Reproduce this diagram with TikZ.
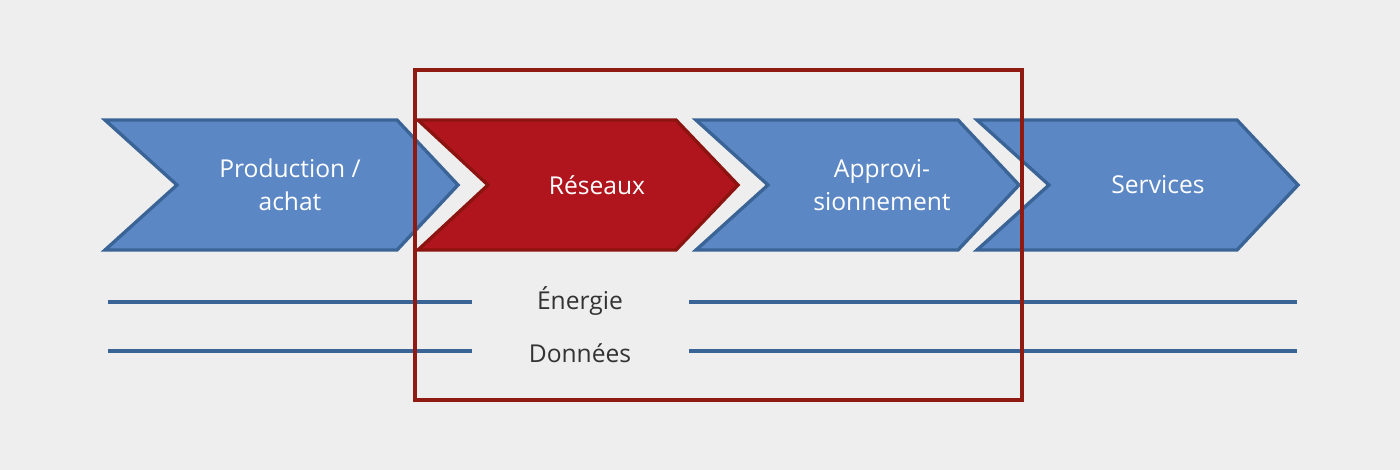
\documentclass[tikz,border=0pt]{standalone}
\usepackage{fontspec}
\setmainfont{Open Sans}
\usetikzlibrary{positioning}
\definecolor{bggray}{HTML}{EEEEEE}
\definecolor{chevblue}{HTML}{5B87C5}
\definecolor{chevedge}{HTML}{3B6496}
\definecolor{chevred}{HTML}{B0151E}
\definecolor{rededge}{HTML}{8C1410}
\definecolor{boxred}{HTML}{8E1A12}
\definecolor{flowtext}{HTML}{333333}

\begin{document}
\begin{tikzpicture}[x=0.02cm,y=-0.02cm,
    chev/.style={fill=chevblue,draw=chevedge,line width=1.9pt,line join=miter},
    chevsel/.style={chev,fill=chevred,draw=rededge},
    chevtext/.style={text=white,font=\fontsize{14}{19}\selectfont,align=center},
    flowname/.style={text=flowtext,font=\fontsize{14}{19}\selectfont},
    flow/.style={draw=chevedge,line width=2.3pt},
    focus/.style={draw=boxred,line width=2.3pt}]
            \fill[bggray] (0,0) rectangle (1400,470);
            \useasboundingbox (0,0) rectangle (1400,470);

            % the four steps
            \draw[chev]    (105,120) -- (397,120) -- (458,185) -- (397,250) -- (105,250) -- (177,185) -- cycle;
            \draw[chevsel] (418,120) -- (676,120) -- (738,185) -- (676,250) -- (418,250) -- (488,185) -- cycle;
            \draw[chev]    (696,120) -- (958,120) -- (1019,185) -- (958,250) -- (696,250) -- (768,185) -- cycle;
            \draw[chev]    (977,120) -- (1237,120) -- (1298,185) -- (1237,250) -- (977,250) -- (1049,185) -- cycle;

            \node[chevtext] (prod)  at (290,185)  {Production /\\achat};
            \node[chevtext] (res)   at (597,185)  {Réseaux};
            \node[chevtext] (appro) at (882,185)  {Approvi-\\sionnement};
            \node[chevtext] (serv)  at (1158,185) {Services};

            % flows
            \node[flowname] (energie) at (580,301)                                 {Énergie};
            \node[flowname] (donnees) [below of=energie, node distance=1.04cm]    {Données};

            \coordinate (e1) at (108,302);  \coordinate (e2) at (472,302);
            \coordinate (e3) at (689,302);  \coordinate (e4) at (1297,302);
            \coordinate (d1) at (108,351);  \coordinate (d2) at (472,351);
            \coordinate (d3) at (689,351);  \coordinate (d4) at (1297,351);

            \draw[flow] (e1) -- (e2)  (e3) -- (e4);
            \draw[flow] (d1) -- (d2)  (d3) -- (d4);

            % focus on networks
            \draw[focus] (415,70) rectangle (1022,400);
        \end{tikzpicture}
\end{document}
